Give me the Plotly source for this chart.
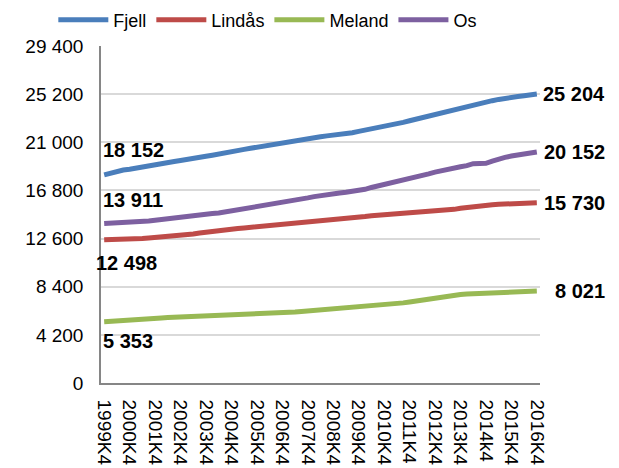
import plotly.graph_objects as go

# quarters 1999K4 .. 2016K4
quarters = ["1999K4"] + [f"{y}K{q}" for y in range(2000, 2017) for q in (1, 2, 3, 4)]

tick_vals = [f"{y}K4" for y in range(1999, 2017)]
tick_text = [v if v != "2014K4" else "2014k4" for v in tick_vals]

fjell = [18152, 18330, 18470, 18580, 18650, 18760, 18850, 18960, 19060, 19150,
         19230, 19330, 19410, 19530, 19600, 19700, 19780, 19870, 19990, 20080,
         20160, 20270, 20380, 20480, 20580, 20660, 20750, 20860, 20950, 21040,
         21130, 21230, 21330, 21410, 21480, 21560, 21610, 21680, 21740, 21840,
         21950, 22050, 22160, 22250, 22350, 22470, 22610, 22740, 22880, 23020,
         23170, 23310, 23460, 23590, 23730, 23870, 24000, 24130, 24290, 24420,
         24540, 24630, 24740, 24860, 24920, 24990, 25060, 25130, 25204]

lindas = [12498, 12500, 12510, 12520, 12540, 12570, 12600, 12640, 12680, 12720,
          12770, 12830, 12880, 12940, 13000, 13080, 13160, 13240, 13310, 13380,
          13430, 13480, 13530, 13580, 13620, 13680, 13730, 13790, 13840, 13890,
          13920, 13960, 14010, 14040, 14080, 14150, 14220, 14270, 14320, 14390,
          14440, 14530, 14600, 14640, 14680, 14710, 14740, 14770, 14790, 14830,
          14880, 14930, 14970, 15010, 15070, 15150, 15250, 15330, 15400, 15460,
          15510, 15550, 15590, 15630, 15660, 15690, 15710, 15720, 15730]

meland = [5353, 5400, 5440, 5480, 5510, 5540, 5570, 5610, 5650, 5680,
          5710, 5730, 5760, 5790, 5810, 5830, 5850, 5870, 5890, 5910,
          5930, 5950, 5960, 5980, 5990, 6010, 6030, 6060, 6100, 6150,
          6200, 6240, 6280, 6350, 6420, 6480, 6530, 6570, 6610, 6650,
          6690, 6720, 6760, 6790, 6830, 6880, 6930, 6990, 7060, 7150,
          7260, 7360, 7460, 7550, 7610, 7670, 7720, 7760, 7790, 7810,
          7830, 7850, 7870, 7900, 7930, 7960, 7990, 8010, 8021]

os_ = [13911, 13930, 13950, 13965, 14000, 14040, 14080, 14130, 14190, 14260,
       14330, 14420, 14530, 14610, 14660, 14720, 14760, 14790, 14830, 14920,
       15000, 15090, 15180, 15280, 15360, 15440, 15520, 15610, 15700, 15790,
       15910, 16030, 16150, 16260, 16360, 16440, 16510, 16570, 16640, 16710,
       16790, 16900, 17060, 17180, 17300, 17440, 17590, 17720, 17840, 17980,
       18110, 18250, 18400, 18540, 18660, 18760, 18860, 18960, 19130, 19150,
       19160, 19350, 19550, 19680, 19800, 19900, 19990, 20070, 20152]

series = [("Fjell", fjell, "#4A7EBB"), ("Lindås", lindas, "#BE4B48"),
          ("Meland", meland, "#98B954"), ("Os", os_, "#7D60A0")]

FONT = "Liberation Sans, Arial, sans-serif"

fig = go.Figure()
for name, vals, col in series:
    fig.add_trace(go.Scatter(x=quarters, y=vals, name=name, mode="lines",
                             line=dict(color=col, width=5)))

def fmt(v):
    return f"{v:,}".replace(",", " ")

# start labels (offsets dx, dy, yanchor)
start_off = {"Fjell": (-3, 12, "bottom"), "Lindås": (-10, -10, "top"),
             "Meland": (-3, -6, "top"), "Os": (-3, 11, "bottom")}
for name, vals, col in series:
    dx, dy, ya = start_off[name]
    fig.add_annotation(x=quarters[0], y=vals[0], text="<b>" + fmt(vals[0]) + "</b>",
                       showarrow=False, xanchor="left", yanchor=ya,
                       xshift=dx, yshift=dy, font=dict(size=20, color="black", family=FONT))
    fig.add_annotation(x=quarters[-1], y=vals[-1], text="<b>" + fmt(vals[-1]) + "</b>",
                       showarrow=False, xanchor="right", yanchor="middle",
                       xshift=70, yshift=0, font=dict(size=20, color="black", family=FONT))

fig.update_layout(
    width=619, height=468,
    margin=dict(l=101, r=79, t=46, b=85, autoexpand=False),
    plot_bgcolor="white", paper_bgcolor="white",
    separators=", ",
    font=dict(family=FONT, size=19, color="black"),
    showlegend=True,
    legend=dict(orientation="h", x=0.38, xanchor="center", y=1.077, yanchor="middle",
                font=dict(size=18), itemwidth=50, traceorder="normal"),
)
fig.update_xaxes(type="category", range=[-0.5, 68.5], tickmode="array",
                 tickvals=tick_vals, ticktext=tick_text, tickangle=90,
                 showgrid=False, showline=True, linecolor="#868686", linewidth=1.5,
                 ticks="", tickfont=dict(size=19), ticklabelstandoff=11, automargin=False)
fig.update_yaxes(range=[0, 29400], dtick=4200, tick0=0, showgrid=True,
                 gridcolor="#D9D9D9", gridwidth=1.5, showline=True,
                 linecolor="#868686", linewidth=1.5, ticks="", zeroline=False,
                 tickfont=dict(size=19), tickformat=",d", ticklabelstandoff=12,
                 automargin=False)

fig.write_html("out.html", config={"displayModeBar": False},
               post_script="document.body.style.margin='0px';")
